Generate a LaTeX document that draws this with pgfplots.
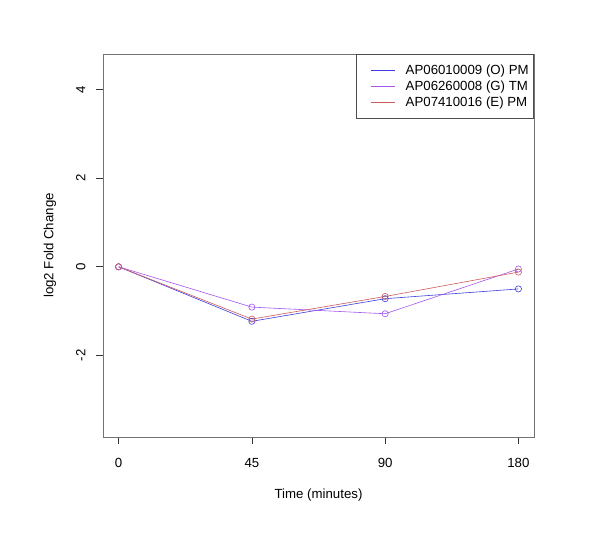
\documentclass[border=0pt]{standalone}
\usepackage{fontspec}
\setmainfont{Liberation Sans}
\usepackage{pgfplots}
\pgfplotsset{compat=1.18}
\definecolor{lnblue}{RGB}{60,60,220}
\definecolor{lnpurple}{RGB}{165,85,240}
\definecolor{lnred}{RGB}{205,90,90}
\begin{document}
\begin{tikzpicture}[x=1bp,y=1bp]
\useasboundingbox (0,0) rectangle (600,542);
\begin{axis}[
  at={(103bp,105bp)}, anchor=south west,
  scale only axis, width=431bp, height=383bp,
  xmin=-0.117, xmax=3.117, ymin=-3.84, ymax=4.8,
  axis line style={black!55},
  xtick={0,1,2,3}, xticklabels={0,45,90,180},
  ytick={-2,0,2,4}, yticklabels={-2,0,2,4},
  xtick pos=bottom, ytick pos=left,
  tick align=outside, major tick length=7bp,
  tick style={black!80, line width=0.6bp},
  every tick label/.append style={font=\fontsize{13.3}{16}\selectfont},
  xticklabel style={anchor=north, yshift=-11bp},
  yticklabel style={rotate=90, anchor=south, yshift=7bp},
  xlabel={Time (minutes)}, ylabel={log2 Fold Change},
  label style={font=\fontsize{13.3}{16}\selectfont},
  xlabel style={at={(axis description cs:0.5,0)}, anchor=center, yshift=-58bp},
  ylabel style={at={(axis description cs:0,0.5)}, anchor=center, yshift=53bp},
  mark=o, mark size=3.1bp,
  every axis plot/.append style={line width=0.6bp, mark options={solid}},
  legend style={at={(1,1)}, anchor=north east, draw=black!70, line width=0.6bp,
    font=\fontsize{13.3}{16}\selectfont, inner xsep=3bp, inner ysep=9bp,
    row sep=0.5bp, cells={anchor=west}},
  legend image code/.code={\path (0bp,0bp); \draw[#1, mark=none, line width=0.8bp] (12bp,0bp) -- (36bp,0bp); \path (44bp,0bp);},
]
\addplot[color=lnblue, mark=o] coordinates {(0,0) (1,-1.23) (2,-0.72) (3,-0.50)};
\addlegendentry{AP06010009 (O) PM}
\addplot[color=lnpurple, mark=o] coordinates {(0,0) (1,-0.91) (2,-1.06) (3,-0.05)};
\addlegendentry{AP06260008 (G) TM}
\addplot[color=lnred, mark=o] coordinates {(0,0) (1,-1.18) (2,-0.67) (3,-0.12)};
\addlegendentry{AP07410016 (E) PM}
\end{axis}
\end{tikzpicture}
\end{document}
